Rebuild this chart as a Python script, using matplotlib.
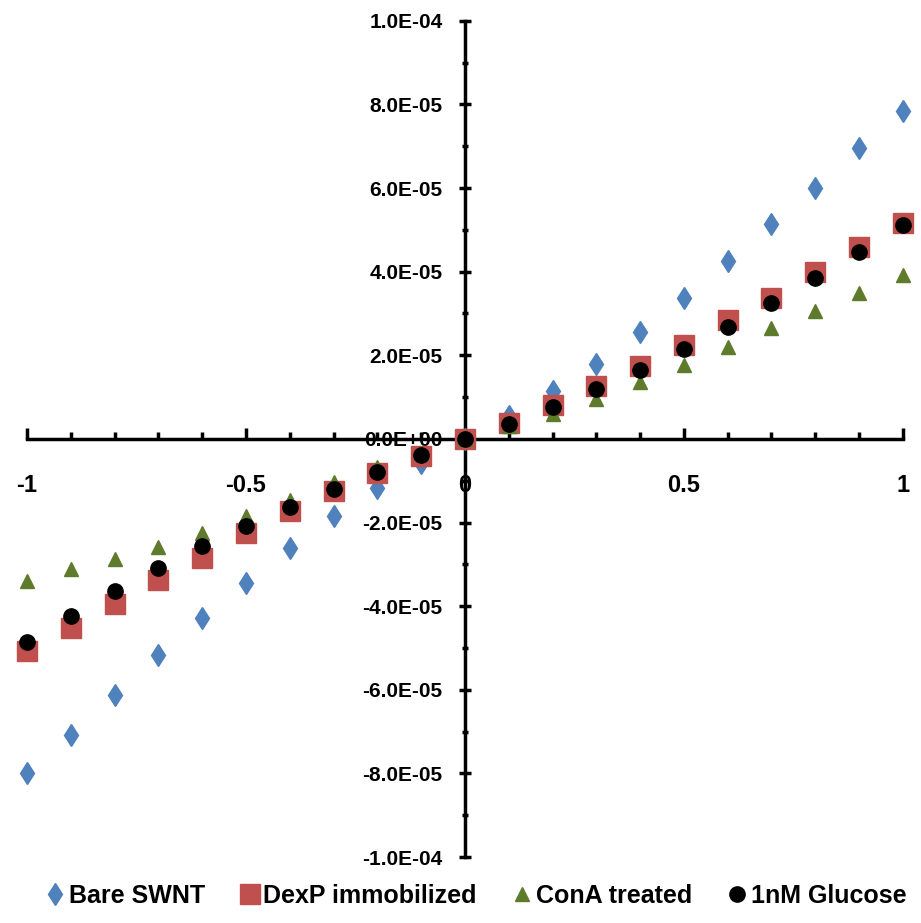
import numpy as np
import matplotlib
matplotlib.use("Agg")
import matplotlib.pyplot as plt
from matplotlib.ticker import MultipleLocator, FuncFormatter

plt.rcParams['font.family'] = ['Liberation Sans', 'DejaVu Sans']
plt.rcParams['font.weight'] = 'bold'

# applied voltage (V)
volts = [-1.0, -0.9, -0.8, -0.7, -0.6, -0.5, -0.4, -0.3, -0.2, -0.1, 0.0,
         0.1, 0.2, 0.3, 0.4, 0.5, 0.6, 0.7, 0.8, 0.9, 1.0]

# current (A)
bare_swnt = [-8.0e-5, -7.08e-5, -6.12e-5, -5.17e-5, -4.28e-5, -3.44e-5, -2.6e-5, -1.84e-5, -1.17e-5, -5.7e-6, 0.0,
             5.5e-6, 1.15e-5, 1.8e-5, 2.55e-5, 3.37e-5, 4.25e-5, 5.13e-5, 6.0e-5, 6.95e-5, 7.85e-5]
dexp = [-5.07e-5, -4.52e-5, -3.95e-5, -3.37e-5, -2.85e-5, -2.25e-5, -1.72e-5, -1.24e-5, -8.1e-6, -4.0e-6, 0.0,
        3.8e-6, 8.1e-6, 1.27e-5, 1.75e-5, 2.25e-5, 2.85e-5, 3.37e-5, 4.0e-5, 4.6e-5, 5.17e-5]
cona = [-3.4e-5, -3.1e-5, -2.87e-5, -2.58e-5, -2.25e-5, -1.84e-5, -1.46e-5, -1.03e-5, -6.7e-6, -3.3e-6, 0.0,
        3.1e-6, 6.0e-6, 9.6e-6, 1.36e-5, 1.77e-5, 2.2e-5, 2.66e-5, 3.06e-5, 3.49e-5, 3.92e-5]
glucose = [-4.86e-5, -4.23e-5, -3.64e-5, -3.09e-5, -2.56e-5, -2.08e-5, -1.63e-5, -1.2e-5, -7.9e-6, -3.8e-6, 0.0,
           3.6e-6, 7.7e-6, 1.2e-5, 1.65e-5, 2.15e-5, 2.68e-5, 3.25e-5, 3.85e-5, 4.47e-5, 5.12e-5]

fig = plt.figure(figsize=(9.21, 9.23), dpi=100)
ax = fig.add_axes([0.0293, 0.0715, 0.951, 0.906])

ax.plot(volts, bare_swnt, linestyle='none', marker='d', ms=11.5, color='#4F81BD', mec='#4F81BD',
        label='Bare SWNT', clip_on=False, zorder=3)
ax.plot(volts, dexp, linestyle='none', marker='s', ms=14, color='#C0504D', mec='#C0504D',
        label='DexP immobilized', clip_on=False, zorder=3)
ax.plot(volts, cona, linestyle='none', marker='^', ms=10, color='#5E7B2C', mec='#5E7B2C',
        label='ConA treated', clip_on=False, zorder=3)
ax.plot(volts, glucose, linestyle='none', marker='o', ms=11, color='black',
        label='1nM Glucose', clip_on=False, zorder=4)

ax.set_xlim(-1, 1)
ax.set_ylim(-1e-4, 1e-4)

for s in ['top', 'right']:
    ax.spines[s].set_visible(False)
ax.spines['left'].set_position(('data', 0))
ax.spines['bottom'].set_position(('data', 0))
ax.spines['left'].set_linewidth(2.5)
ax.spines['bottom'].set_linewidth(2.5)


def yfmt(v, p):
    if abs(v) < 1e-12:
        v = 0.0
    return f"{v:.1E}"


ax.xaxis.set_major_locator(MultipleLocator(0.5))
ax.xaxis.set_minor_locator(MultipleLocator(0.1))
ax.yaxis.set_major_locator(MultipleLocator(2e-5))
ax.yaxis.set_minor_locator(MultipleLocator(1e-5))
ax.xaxis.set_major_formatter(FuncFormatter(lambda v, p: f"{v:g}"))
ax.yaxis.set_major_formatter(FuncFormatter(yfmt))

ax.tick_params(axis='x', which='both', direction='in', width=2.5, labelsize=17, pad=25)
ax.tick_params(axis='x', which='major', length=8)
ax.tick_params(axis='x', which='minor', length=5)
ax.tick_params(axis='y', which='both', direction='inout', width=2.5, labelsize=15, pad=12)
ax.tick_params(axis='y', which='major', length=8)
ax.tick_params(axis='y', which='minor', length=5)

fig.legend(loc='lower center', bbox_to_anchor=(0.515, -0.008), ncol=4, frameon=False,
           handletextpad=0.05, columnspacing=1.3, handlelength=1.0,
           prop={'weight': 'bold', 'size': 18})

fig.savefig('out.png', dpi=100)
